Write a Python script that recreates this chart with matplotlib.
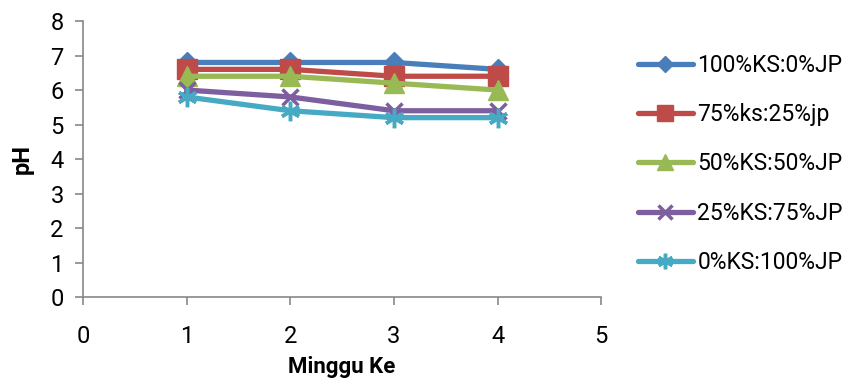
import matplotlib.pyplot as plt

plt.rcParams['font.family'] = ['Roboto', 'DejaVu Sans']

weeks = [1, 2, 3, 4]
labels = ['100%KS:0%JP', '75%ks:25%jp', '50%KS:50%JP', '25%KS:75%JP', '0%KS:100%JP']
ph_100 = [6.8, 6.8, 6.8, 6.6]
ph_75 = [6.6, 6.6, 6.4, 6.4]
ph_50 = [6.4, 6.4, 6.2, 6.0]
ph_25 = [6.0, 5.8, 5.4, 5.4]
ph_0 = [5.8, 5.4, 5.2, 5.2]

series = [ph_100, ph_75, ph_50, ph_25, ph_0]
colors = ['#4a7ebb', '#be4b48', '#98b954', '#7d5fa0', '#46aac5']
markers = ['D', 's', '^', 'x', (6, 2, 0)]
msizes = [10, 14, 14, 12, 14]

fig = plt.figure(figsize=(8.48, 3.83), dpi=100)
ax = fig.add_axes([0.098, 0.2245, 0.611, 0.7205])

for vals, lab, c, m, ms in zip(series, labels, colors, markers, msizes):
    ax.plot(weeks, vals, color=c, linewidth=3.8, marker=m, markersize=ms,
            markeredgewidth=2.5 if m in ('x', (6, 2, 0)) else 1,
            markeredgecolor=c, markerfacecolor=c, label=lab,
            solid_capstyle='round')

ax.set_xlim(0, 5)
ax.set_ylim(0, 8)
ax.set_xticks(range(0, 6))
ax.set_yticks(range(0, 9))
ax.tick_params(labelsize=17, colors='#888888', labelcolor='black', length=6, width=1.2)
ax.tick_params(axis='x', pad=14)
ax.tick_params(axis='y', pad=8)
for s in ['top', 'right']:
    ax.spines[s].set_visible(False)
for s in ['left', 'bottom']:
    ax.spines[s].set_color('#888888')
    ax.spines[s].set_linewidth(1.2)

ax.set_xlabel('Minggu Ke', fontsize=16, fontweight='bold', labelpad=6)
ax.set_ylabel('pH', fontsize=17, fontweight='bold', labelpad=12)

leg = fig.legend(loc='upper left', bbox_to_anchor=(0.752, 0.86), frameon=False,
                 fontsize=16.5, labelspacing=1.15, handlelength=2.4, handletextpad=0.2,
                 borderpad=0, borderaxespad=0, markerscale=0.8)

fig.savefig('out.png', dpi=100)
